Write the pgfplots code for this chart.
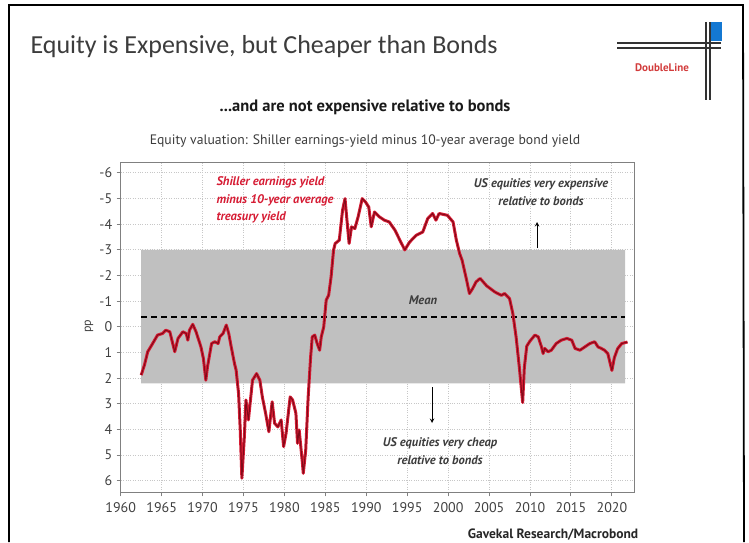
\documentclass[border=0pt]{standalone}
\usepackage{fontspec}
\setmainfont{PT Sans}
\newfontfamily\titlefont{Carlito}
\usepackage{pgfplots}
\usepackage{pgfplotstable}
\pgfplotsset{compat=1.18}
\definecolor{linered}{RGB}{214,28,52}
\definecolor{linedark}{RGB}{130,10,25}
\definecolor{bandgray}{RGB}{192,192,192}
\definecolor{txtgray}{RGB}{60,60,60}
\definecolor{logored}{RGB}{210,60,60}
\definecolor{logoblue}{RGB}{20,120,210}

\pgfplotstableread{
year val
1962.5 1.88
1962.9 1.49
1963.3 0.97
1963.9 0.65
1964.5 0.32
1965.1 0.26
1965.5 0.13
1966.0 0.19
1966.3 0.58
1966.6 0.97
1967.0 0.45
1967.6 0.19
1968.0 0.26
1968.2 0.52
1968.4 0.13
1968.8 -0.10
1969.2 0.19
1969.8 0.78
1970.1 1.23
1970.4 2.08
1970.6 1.56
1971.1 0.65
1971.5 0.58
1971.9 0.65
1972.1 0.39
1972.5 0.26
1972.9 -0.07
1973.2 0.26
1973.5 0.78
1973.9 1.43
1974.1 1.69
1974.4 2.6
1974.6 4.0
1974.8 5.9
1975.1 4.3
1975.3 2.85
1975.6 3.63
1976.1 2.08
1976.6 1.82
1977.0 2.08
1977.3 2.73
1977.7 3.37
1978.1 4.09
1978.5 2.92
1978.8 3.76
1979.2 3.9
1979.6 3.63
1979.9 4.67
1980.2 4.15
1980.7 2.73
1981.0 2.85
1981.4 3.37
1981.6 4.54
1981.8 4.02
1982.2 5.32
1982.3 5.71
1982.6 4.8
1982.9 2.73
1983.2 1.17
1983.4 0.39
1983.7 0.32
1984.0 0.65
1984.3 0.91
1984.5 0.39
1984.8 0.0
1985.1 -1.04
1985.4 -1.23
1985.7 -1.95
1986.0 -2.99
1986.2 -3.25
1986.7 -3.38
1987.1 -4.55
1987.4 -5.0
1987.6 -4.29
1987.9 -3.25
1988.2 -3.9
1988.6 -3.83
1989.0 -4.29
1989.5 -5.0
1989.9 -4.87
1990.3 -4.67
1990.6 -3.9
1991.0 -4.48
1991.6 -4.29
1992.2 -4.16
1992.8 -4.09
1993.5 -3.77
1994.1 -3.38
1994.7 -3.0
1995.3 -3.31
1996.1 -3.57
1996.9 -3.7
1997.5 -4.22
1998.1 -4.42
1998.5 -4.16
1998.9 -4.42
1999.9 -4.35
2000.6 -4.09
2001.0 -3.38
2001.4 -2.86
2001.7 -2.6
2002.2 -1.9
2002.6 -1.3
2003.0 -1.5
2003.4 -1.75
2003.9 -1.89
2004.7 -1.6
2005.7 -1.36
2006.5 -1.23
2006.9 -1.30
2007.5 -1.1
2007.9 -0.52
2008.3 0.4
2008.7 1.6
2009.1 2.95
2009.3 1.6
2009.6 0.75
2010.0 0.55
2010.6 0.32
2011.0 0.39
2011.4 0.78
2011.6 1.04
2011.8 0.84
2012.2 0.97
2012.6 0.91
2013.2 0.65
2013.8 0.52
2014.5 0.45
2015.1 0.52
2015.5 0.84
2016.1 0.91
2016.7 0.78
2017.3 0.65
2017.9 0.58
2018.3 0.78
2018.7 0.84
2019.1 0.91
2019.5 1.04
2020.0 1.70
2020.3 1.2
2020.7 0.85
2021.2 0.65
2021.9 0.59
}\seriesdata

\begin{document}
\begin{tikzpicture}[x=1pt,y=1pt]
\useasboundingbox (0,0) rectangle (749,542);
% outer frame
\draw[black, line width=1.8pt] (9,0) -- (9,537) -- (743,537) -- (744,0);
% title
\node[anchor=west, text=txtgray, font=\titlefont\fontsize{26}{26}\selectfont] at (27,495) {Equity is Expensive, but Cheaper than Bonds};
% logo
\draw[black!80, line width=1.1pt] (617,499) -- (721,499);
\draw[black!80, line width=1.1pt] (617,494) -- (721,494);
\draw[black!80, line width=1.1pt] (706,520) -- (706,442);
\draw[black!80, line width=1.1pt] (710,520) -- (710,442);
\fill[logoblue] (711,520) rectangle (722,501);
\node[text=logored, font=\bfseries\fontsize{11}{11}\selectfont] at (662,474) {DoubleLine};
% subtitles
\node[text=black!90, font=\bfseries\fontsize{16.5}{16.5}\selectfont] at (365,435) {...and are not expensive relative to bonds};
\node[text=txtgray, font=\fontsize{13.7}{13.7}\selectfont] at (365,401) {Equity valuation: Shiller earnings-yield minus 10-year average bond yield};

\begin{axis}[
  at={(120.7pt,49.7pt)}, anchor=south west,
  width=513.3pt, height=329.6pt, scale only axis,
  xmin=1960, xmax=2022.7, ymin=-6.4, ymax=6.45, y dir=reverse,
  xtick={1960,1965,1970,1975,1980,1985,1990,1995,2000,2005,2010,2015,2020},
  xticklabels={1960,1965,1970,1975,1980,1985,1990,1995,2000,2005,2010,2015,2020},
  ytick={-6,-5,-4,-3,-2,-1,0,1,2,3,4,5,6},
  yticklabels={-6,-5,-4,-3,-2,-1,0,1,2,3,4,5,6},
  grid=major,
  major grid style={dotted, black!22, line width=1pt},
  axis line style={black!50, line width=1pt},
  tick style={black!50, line width=1pt},
  tick align=outside, major tick length=4pt,
  xtick pos=bottom, ytick pos=left,
  ticklabel style={font=\fontsize{14}{14}\selectfont, text=black!75},
  xticklabel style={yshift=-3pt},
  yticklabel style={xshift=-1pt},
  clip=false,
]
\addplot[fill=bandgray, draw=none] coordinates {(1962.5,-3) (2021.6,-3) (2021.6,2.2) (1962.5,2.2) (1962.5,-3)};
\addplot[black, dash pattern=on 6pt off 4pt, line width=1.8pt] coordinates {(1962.5,-0.4) (2021.6,-0.4)};
\addplot[linered, line width=3pt, line join=round] table[x=year, y=val] {\seriesdata};
\addplot[linedark, line width=1pt, line join=round] table[x=year, y=val] {\seriesdata};
\end{axis}

% y label
\node[rotate=90, text=txtgray, font=\fontsize{12}{12}\selectfont] at (89,216) {pp};
% annotations
\node[anchor=west, align=left, text=linered, font=\bfseries\itshape\fontsize{12.5}{17.5}\selectfont] at (213,342) {Shiller earnings yield\\minus 10-year average\\treasury yield};
\node[align=center, text=txtgray, font=\bfseries\itshape\fontsize{12.5}{18.5}\selectfont] at (541,350) {US equities very expensive\\relative to bonds};
\draw[-stealth, black, line width=1pt] (537,294) -- (537,320);
\node[text=txtgray, font=\bfseries\itshape\fontsize{12.5}{12.5}\selectfont] at (423,242) {Mean};
\draw[-stealth, black, line width=1pt] (432,155) -- (432,119);
\node[align=center, text=txtgray, font=\bfseries\itshape\fontsize{12.5}{18}\selectfont] at (440,91) {US equities very cheap\\relative to bonds};
\node[text=black!85, font=\bfseries\fontsize{13.5}{13.5}\selectfont] at (553,7.5) {Gavekal Research/Macrobond};
\end{tikzpicture}
\end{document}
